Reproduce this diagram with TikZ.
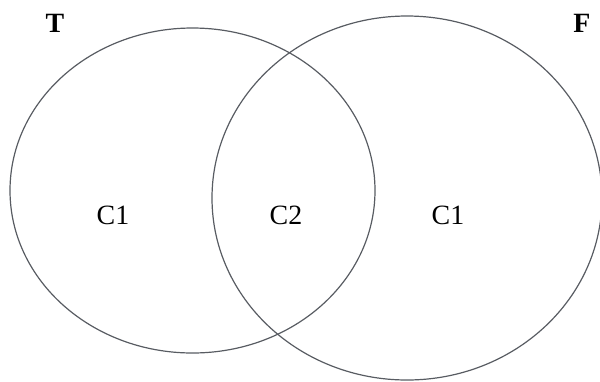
\documentclass[tikz,border=0pt]{standalone}
\usepackage{fontspec}
\setmainfont{Liberation Serif}
\definecolor{setgray}{RGB}{88,92,98}
\begin{document}
\begin{tikzpicture}[x=1bp, y=-1bp, line width=1.2bp,
    setline/.style={color=setgray},
    label/.style={font=\fontsize{28}{30}\selectfont, inner sep=0pt}]
  \useasboundingbox (0, 0) rectangle (600, 381);
  \draw[setline] (192.5, 190.5) ellipse [x radius=182.5, y radius=162.5];
  \draw[setline] (407, 198) ellipse [x radius=195, y radius=182];

  \node[label, font=\fontsize{28}{30}\selectfont\bfseries] (nameT) at (55, 23) {T};
  \node[label, font=\fontsize{28}{30}\selectfont\bfseries] (nameF) at (582, 23) {F};
  \node[label] (leftC) at (113, 215) {C1};
  \node[label] (midC) at (286, 215) {C2};
  \node[label] (rightC) at (448, 215) {C1};
\end{tikzpicture}
\end{document}
